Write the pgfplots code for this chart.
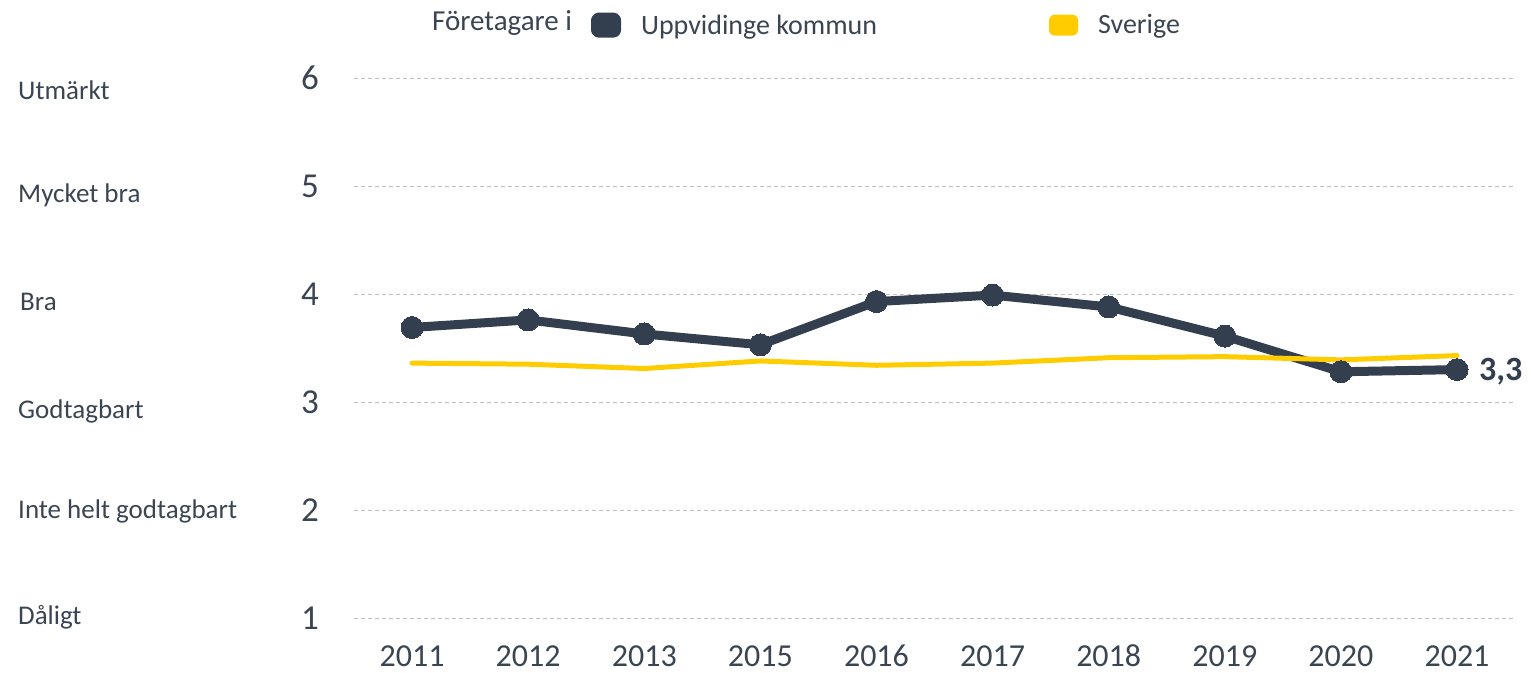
\documentclass[border=0pt]{standalone}
\usepackage{fontspec}
\setmainfont{Carlito}
\usepackage{pgfplots}
\pgfplotsset{compat=1.18}
\definecolor{dark}{RGB}{51,63,79}
\definecolor{txt}{RGB}{59,69,82}
\definecolor{yel}{RGB}{255,204,0}
\definecolor{gridc}{RGB}{192,192,192}
\begin{document}
\begin{tikzpicture}
\useasboundingbox (0pt,0pt) rectangle (1531pt,672pt);
\begin{axis}[
  at={(354pt,54pt)}, anchor=south west,
  scale only axis, width=1161pt, height=540pt,
  xmin=-0.5, xmax=9.5, ymin=1, ymax=6,
  axis line style={draw=none},
  major tick length=0pt,
  xtick={0,...,9},
  xticklabels={2011,2012,2013,2015,2016,2017,2018,2019,2020,2021},
  ytick={1,...,6},
  ymajorgrids,
  grid style={gridc, dash pattern=on 4pt off 3pt, line width=1pt},
  /pgf/number format/assume math mode=true,
  xticklabel style={font=\fontsize{32}{36}\selectfont, text=txt, inner sep=0pt, anchor=base, yshift=-48pt},
  yticklabel style={font=\fontsize{35}{38}\selectfont, text=txt, inner sep=0pt, anchor=east, xshift=-35pt},
  clip=false,
  legend style={at={(0.204,1.098)}, anchor=west, draw=none, fill=none, inner sep=0pt,
    font=\fontsize{28}{32}\selectfont, text=txt, nodes={inner sep=0pt},
    /tikz/every odd column/.append style={column sep=20pt}},
  legend columns=-1,
  legend cell align=left,
]
\addplot[dark, line width=9pt, line join=round, mark=*, mark size=11pt,
  mark options={fill=dark, draw=dark, line width=0pt},
  legend image code/.code={\fill[dark, rounded corners=3pt] (0pt,-8pt) rectangle (21pt,8pt);}]
  coordinates {(0,3.69) (1,3.76) (2,3.63) (3,3.53) (4,3.93) (5,3.99) (6,3.88) (7,3.61) (8,3.28) (9,3.30)};
\addlegendentry{\makebox[408pt][l]{Uppvidinge kommun}}
\addplot[yel, line width=5pt, line join=round, line cap=round, no markers,
  legend image code/.code={\fill[yel, rounded corners=3pt] (0pt,-8pt) rectangle (24pt,8pt);}]
  coordinates {(0,3.36) (1,3.35) (2,3.31) (3,3.38) (4,3.34) (5,3.36) (6,3.41) (7,3.42) (8,3.39) (9,3.43)};
\addlegendentry{Sverige}
\node[anchor=base west, inner sep=0pt, font=\bfseries\fontsize{34}{38}\selectfont, text=dark, xshift=22pt, yshift=-11pt] at (axis cs:9,3.30) {3,3};
\end{axis}
\node[anchor=base west, inner sep=0pt, font=\fontsize{29}{32}\selectfont, text=txt] at (432pt,641pt) {Företagare i};
\begin{scope}[every node/.style={anchor=base west, inner sep=0pt, font=\fontsize{27}{30}\selectfont, text=txt}]
\node at (18pt,572pt) {Utmärkt};
\node at (18pt,469pt) {Mycket bra};
\node at (20pt,361pt) {Bra};
\node at (18pt,253pt) {Godtagbart};
\node at (18pt,153pt) {Inte helt godtagbart};
\node at (18pt,48pt) {Dåligt};
\end{scope}
\end{tikzpicture}
\end{document}
